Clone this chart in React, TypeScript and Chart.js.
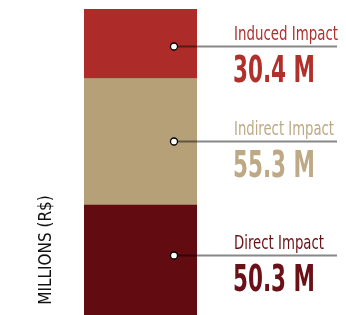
import React, { useEffect, useRef } from "react";
import { Chart, registerables } from "chart.js";

Chart.register(...registerables);

const categories = ["Impact"];
const seriesNames = ["Direct Impact", "Indirect Impact", "Induced Impact"];
const directValues = [50.3];
const indirectValues = [55.3];
const inducedValues = [30.4];
const valueLabels = ["50.3 M", "55.3 M", "30.4 M"];
const axisTitle = "MILLIONS (R$)";

const colors = ["#620b10", "#b6a078", "#ad2b29"];
const textColors = ["#6a1016", "#bda985", "#b0302c"];
const dotOffsets = [-5, -1, 2];

const calloutPlugin = {
  id: "callouts",
  afterDatasetsDraw(chart: any) {
    const ctx = chart.ctx;
    const area = chart.chartArea;
    const yScale = chart.scales.y;
    ctx.save();
    let base = 0;
    chart.data.datasets.forEach((ds: any, i: number) => {
      const v = ds.data[0];
      const lo = Math.max(base, yScale.min);
      const hi = base + v;
      const yTop = yScale.getPixelForValue(hi);
      const yBot = Math.min(yScale.getPixelForValue(lo), area.bottom);
      const y = Math.round((yTop + yBot) / 2 + dotOffsets[i]) + 0.5;
      base = hi;
      const dotX = 174;
      // line
      ctx.strokeStyle = "rgba(0,0,0,0.47)";
      ctx.lineWidth = 2;
      ctx.beginPath();
      ctx.moveTo(dotX, y);
      ctx.lineTo(337, y);
      ctx.stroke();
      // dot
      ctx.beginPath();
      ctx.arc(dotX, y, 3.5, 0, Math.PI * 2);
      ctx.fillStyle = "#ffffff";
      ctx.fill();
      ctx.lineWidth = 1.3;
      ctx.strokeStyle = "#000000";
      ctx.stroke();
      // label
      ctx.textAlign = "left";
      ctx.textBaseline = "alphabetic";
      ctx.fillStyle = textColors[i];
      ctx.font = "19px 'Liberation Sans Narrow', 'DejaVu Sans Condensed', sans-serif";
      const lw = [90, 100, 104][i];
      ctx.fillText(ds.label, 234, y - 7, lw);
      ctx.font = "bold 38px 'Liberation Sans Narrow', 'DejaVu Sans Condensed', sans-serif";
      ctx.fillText(valueLabels[i], 233, y + 35, 82);
    });
    // axis title
    ctx.save();
    ctx.translate(51, 250);
    ctx.rotate(-Math.PI / 2);
    ctx.textAlign = "center";
    ctx.textBaseline = "alphabetic";
    ctx.fillStyle = "#111111";
    ctx.font = "17px 'Liberation Sans Narrow', 'DejaVu Sans Condensed', sans-serif";
    ctx.fillText(axisTitle, 0, 0);
    ctx.restore();
    ctx.restore();
  },
};

export default function App() {
  const ref = useRef<HTMLCanvasElement>(null);
  useEffect(() => {
    if (!ref.current) return;
    const chart = new Chart(ref.current, {
      type: "bar",
      data: {
        labels: categories,
        datasets: [
          { label: seriesNames[0], data: directValues, backgroundColor: colors[0] },
          { label: seriesNames[1], data: indirectValues, backgroundColor: colors[1] },
          { label: seriesNames[2], data: inducedValues, backgroundColor: colors[2] },
        ],
      },
      options: {
        animation: false,
        responsive: false,
        maintainAspectRatio: false,
        layout: { padding: { left: 84, right: 149, top: 9, bottom: 0 } },
        datasets: { bar: { barPercentage: 1, categoryPercentage: 1, borderWidth: 0 } },
        plugins: { legend: { display: false }, tooltip: { enabled: false } },
        scales: {
          x: { stacked: true, display: false },
          y: { stacked: true, display: false, min: 2.2, max: 136.0 },
        },
      },
      plugins: [calloutPlugin],
    });
    return () => chart.destroy();
  }, []);
  return (
    <div style={{ position: "absolute", left: 0, top: 0, width: 346, height: 315 }}>
      <canvas ref={ref} width={346} height={315} style={{ display: "block" }} />
    </div>
  );
}
